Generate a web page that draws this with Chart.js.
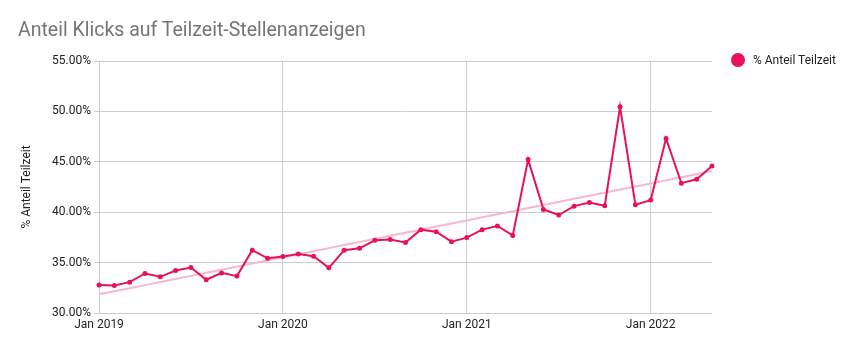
<!DOCTYPE html>
<html>
<head>
<meta charset="utf-8">
<script src="https://cdn.jsdelivr.net/npm/chart.js@4"></script>
<style>
  html, body { margin: 0; padding: 0; background: #fff; }
  #wrap { position: relative; width: 854px; height: 351px; }
  #title { position: absolute; left: 18px; top: 18px; font: 19.5px Roboto, sans-serif; color: #757575; }
  #legend { position: absolute; left: 731px; top: 53px; font: 12px Roboto, sans-serif; color: #222; display: flex; align-items: center; }
  #legend span.dot { width: 14px; height: 14px; border-radius: 50%; background: #e8125c; margin-right: 8px; display: inline-block; }
</style>
</head>
<body>
<div id="wrap">
  <canvas id="chart" width="854" height="351"></canvas>
  <div id="title">Anteil Klicks auf Teilzeit-Stellenanzeigen</div>
  <div id="legend"><span class="dot"></span>% Anteil Teilzeit</div>
</div>
<script>
const months = ['Jan', 'Feb', 'Mar', 'Apr', 'May', 'Jun', 'Jul', 'Aug', 'Sep', 'Oct', 'Nov', 'Dec'];
const years = [2019, 2020, 2021, 2022];
const monthCount = 41; // Jan 2019 .. May 2022

const labels = [];
for (let i = 0; i < monthCount; i++) {
    labels.push(months[i % 12] + ' ' + years[Math.floor(i / 12)]);
}

// % Anteil Teilzeit
const values2019 = [32.77, 32.74, 33.06, 33.92, 33.59, 34.22, 34.51, 33.30, 33.98, 33.66, 36.23, 35.43];
const values2020 = [35.60, 35.86, 35.63, 34.48, 36.23, 36.42, 37.21, 37.28, 36.99, 38.27, 38.07, 37.08];
const values2021 = [37.48, 38.27, 38.63, 37.70, 45.22, 40.28, 39.72, 40.60, 40.97, 40.64, 50.45, 40.74];
const values2022 = [41.20, 47.32, 42.88, 43.27, 44.59];
const shareValues = [...values2019, ...values2020, ...values2021, ...values2022];

const yTicks = [30, 35, 40, 45, 50, 55];

// linear trendline (least squares), like the spreadsheet trendline
function trendline(data) {
    const n = data.length;
    let sx = 0, sy = 0, sxy = 0, sxx = 0;
    data.forEach((y, x) => { sx += x; sy += y; sxy += x * y; sxx += x * x; });
    const slope = (n * sxy - sx * sy) / (n * sxx - sx * sx);
    const intercept = (sy - slope * sx) / n;
    return data.map((_, x) => intercept + slope * x);
}

const lineColor = '#e8125c';
const trendColor = '#f7b8cd';
const gridColor = '#cccccc';
const font = { family: 'Roboto, sans-serif', size: 12 };

new Chart(document.getElementById('chart'), {
    type: 'line',
    data: {
        labels: labels,
        datasets: [
            {
                label: 'Trend',
                data: trendline(shareValues),
                borderColor: trendColor,
                borderWidth: 2,
                pointRadius: 0,
                order: 2
            },
            {
                label: '% Anteil Teilzeit',
                data: shareValues,
                borderColor: lineColor,
                backgroundColor: lineColor,
                borderWidth: 2,
                pointRadius: 1.5,
                pointHoverRadius: 1.5,
                tension: 0,
                order: 1
            }
        ]
    },
    options: {
        responsive: false,
        animation: false,
        layout: { padding: { top: 61, right: 142, bottom: 0, left: 0 } },
        plugins: {
            legend: { display: false },
            title: { display: false },
            tooltip: { enabled: false }
        },
        scales: {
            x: {
                type: 'category',
                offset: false,
                grid: {
                    color: (ctx) => (ctx.index % 12 === 0 ? gridColor : 'rgba(0,0,0,0)'),
                    drawTicks: false
                },
                border: { display: false },
                ticks: {
                    autoSkip: false,
                    maxRotation: 0,
                    color: '#222',
                    font: font,
                    padding: 5,
                    callback: function(value, index) {
                        return index % 12 === 0 ? labels[index] : '';
                    }
                },
                afterFit: (scale) => { scale.height = 38; }
            },
            y: {
                min: 30,
                max: 55,
                afterBuildTicks: (scale) => { scale.ticks = yTicks.map(v => ({ value: v })); },
                grid: { color: gridColor, tickLength: 5 },
                border: { display: false },
                ticks: {
                    color: '#222',
                    font: font,
                    padding: 3,
                    callback: (v) => v.toFixed(2) + '%'
                },
                title: {
                    display: true,
                    text: '% Anteil Teilzeit',
                    color: '#222',
                    font: font,
                    padding: { top: 20, bottom: 0 }
                },
                afterFit: (scale) => { scale.width = 99; }
            }
        }
    }
});
</script>
</body>
</html>
